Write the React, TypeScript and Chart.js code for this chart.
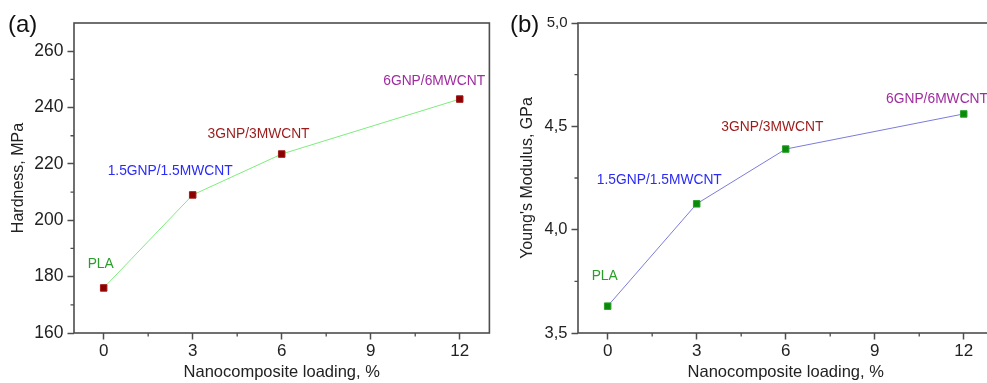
import React, { useEffect, useRef } from 'react';
import { Chart, registerables } from 'chart.js';

Chart.register(...registerables);

const loading = [0, 3, 6, 12];
const hardness = [176, 209, 223.5, 243];
const modulus = [3.63, 4.125, 4.39, 4.56];

const sampleNames = ['PLA', '1.5GNP/1.5MWCNT', '3GNP/3MWCNT', '6GNP/6MWCNT'];
const nameColors = ['#2a9d2a', '#2b2bf5', '#9b1b1b', '#a02ca0'];
const hardnessNameX = [-0.1, 2.24, 5.22, 11.14];
const hardnessNameY = [184.5, 217.5, 230.4, 249.3];
const modulusNameX = [-0.1, 1.74, 5.55, 11.1];
const modulusNameY = [3.776, 4.24, 4.497, 4.632];

const loadingTicks = [0, 3, 6, 9, 12];
const hardnessTicks = [160, 180, 200, 220, 240, 260];
const modulusTicks = [3.5, 4.0, 4.5, 5.0];

const FONT = '"Liberation Sans", Arial, Helvetica, sans-serif';
const FRAME = '#4d4d4d';
const TEXT = '#222';

const mids = (t: number[]) => t.slice(1).map((v, i) => (v + t[i]) / 2);

type PanelCfg = {
  panel: string;
  panelX: number;
  ys: number[];
  yTicks: number[];
  yMin: number;
  yMax: number;
  yTitle: string;
  yTitlePad: number;
  yWidth: number;
  yPad: number;
  tickSize: (v: number) => number;
  xTickSize: number;
  fmt: (v: number) => string;
  lineColor: string;
  pointColor: string;
  pointBorder: string;
  nameX: number[];
  nameY: number[];
};

function makeChart(canvas: HTMLCanvasElement, c: PanelCfg) {
  const decor = {
    id: 'decor',
    afterDraw(chart: any) {
      const { ctx, chartArea: a, scales } = chart;
      const x = scales.x;
      const y = scales.y;
      ctx.save();
      ctx.strokeStyle = FRAME;
      ctx.lineWidth = 1.6;
      ctx.strokeRect(a.left, a.top, a.right - a.left, a.bottom - a.top);
      ctx.lineWidth = 1.3;
      ctx.beginPath();
      mids(loadingTicks).forEach((v) => {
        const p = x.getPixelForValue(v);
        ctx.moveTo(p, a.bottom);
        ctx.lineTo(p, a.bottom + 3.5);
      });
      mids(c.yTicks).forEach((v) => {
        const p = y.getPixelForValue(v);
        ctx.moveTo(a.left, p);
        ctx.lineTo(a.left - 3.5, p);
      });
      ctx.stroke();
      ctx.font = '13.8px ' + FONT;
      ctx.textAlign = 'center';
      ctx.textBaseline = 'middle';
      sampleNames.forEach((n, i) => {
        ctx.fillStyle = nameColors[i];
        ctx.fillText(n, x.getPixelForValue(c.nameX[i]), y.getPixelForValue(c.nameY[i]));
      });
      ctx.font = '24px ' + FONT;
      ctx.fillStyle = '#111';
      ctx.textAlign = 'left';
      ctx.fillText(c.panel, c.panelX, 25);
      ctx.restore();
    },
  };

  return new Chart(canvas, {
    type: 'line',
    data: {
      datasets: [
        {
          data: loading.map((v, i) => ({ x: v, y: c.ys[i] })),
          borderColor: c.lineColor,
          borderWidth: 1,
          backgroundColor: c.pointColor,
          pointStyle: 'rect',
          pointRadius: 4.6,
          pointBackgroundColor: c.pointColor,
          pointBorderColor: c.pointBorder,
          pointBorderWidth: 1,
          tension: 0,
          fill: false,
        },
      ],
    },
    options: {
      responsive: false,
      animation: false,
      events: [],
      layout: { padding: { left: 0, top: 23, right: 2, bottom: 0 } },
      plugins: { legend: { display: false }, tooltip: { enabled: false }, title: { display: false } },
      scales: {
        x: {
          type: 'linear',
          min: -1,
          max: 13,
          afterBuildTicks: (s: any) => {
            s.ticks = loadingTicks.map((v) => ({ value: v }));
          },
          afterFit: (s: any) => {
            s.height = 50;
          },
          ticks: {
            color: TEXT,
            font: { size: c.xTickSize, family: FONT },
            padding: 1.5,
            maxRotation: 0,
            callback: (v: any) => String(v),
          },
          grid: { display: true, drawOnChartArea: false, drawTicks: true, tickLength: 6.5, tickColor: FRAME, tickWidth: 1.5 },
          border: { display: false },
          title: {
            display: true,
            text: 'Nanocomposite loading, %',
            color: TEXT,
            font: { size: 16.5, family: FONT },
            padding: { top: 0, bottom: 1 },
          },
        },
        y: {
          type: 'linear',
          min: c.yMin,
          max: c.yMax,
          afterBuildTicks: (s: any) => {
            s.ticks = c.yTicks.map((v) => ({ value: v }));
          },
          afterFit: (s: any) => {
            s.width = c.yWidth;
          },
          ticks: {
            color: TEXT,
            font: (ctx: any) => ({ size: c.tickSize(ctx.tick ? ctx.tick.value : 0), family: FONT }),
            padding: c.yPad,
            callback: (v: any) => c.fmt(Number(v)),
          },
          grid: { display: true, drawOnChartArea: false, drawTicks: true, tickLength: 6.5, tickColor: FRAME, tickWidth: 1.5 },
          border: { display: false },
          title: {
            display: true,
            text: c.yTitle,
            color: TEXT,
            font: { size: 16, family: FONT },
            padding: { top: c.yTitlePad, bottom: 0 },
          },
        },
      },
    },
    plugins: [decor],
  } as any);
}

export default function App() {
  const leftRef = useRef<HTMLCanvasElement>(null);
  const rightRef = useRef<HTMLCanvasElement>(null);

  useEffect(() => {
    const a = makeChart(leftRef.current!, {
      panel: '(a)',
      panelX: 8,
      ys: hardness,
      yTicks: hardnessTicks,
      yMin: 160,
      yMax: 270,
      yTitle: 'Hardness, MPa',
      yTitlePad: 9,
      yWidth: 74,
      yPad: 4,
      tickSize: () => 17.5,
      xTickSize: 17,
      fmt: (v) => String(v),
      lineColor: '#7ded7d',
      pointColor: '#8b0000',
      pointBorder: '#a01a1a',
      nameX: hardnessNameX,
      nameY: hardnessNameY,
    });
    const b = makeChart(rightRef.current!, {
      panel: '(b)',
      panelX: 15,
      ys: modulus,
      yTicks: modulusTicks,
      yMin: 3.5,
      yMax: 5.0,
      yTitle: "Young's Modulus, GPa",
      yTitlePad: 23,
      yWidth: 83,
      yPad: 4,
      tickSize: (v) => (v === 5 ? 15 : 16.5),
      xTickSize: 17,
      fmt: (v) => v.toFixed(1).replace('.', ','),
      lineColor: '#7b7bdc',
      pointColor: '#0a8a0a',
      pointBorder: '#2aa02a',
      nameX: modulusNameX,
      nameY: modulusNameY,
    });
    return () => {
      a.destroy();
      b.destroy();
    };
  }, []);

  return (
    <div style={{ position: 'fixed', left: 0, top: 0, width: 987, height: 383, overflow: 'hidden', background: '#fff' }}>
      <canvas ref={leftRef} width={495} height={383} style={{ position: 'absolute', left: 0, top: 0, width: 495, height: 383 }} />
      <canvas ref={rightRef} width={504} height={383} style={{ position: 'absolute', left: 495, top: 0, width: 504, height: 383 }} />
    </div>
  );
}
